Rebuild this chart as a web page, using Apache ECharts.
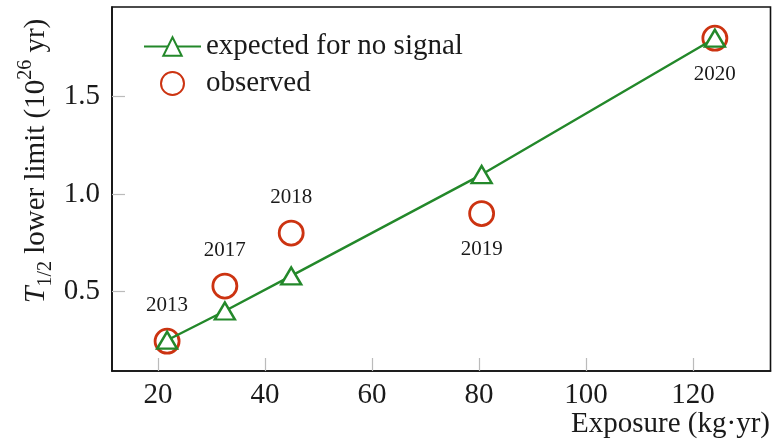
<!DOCTYPE html>
<html>
<head>
<meta charset="utf-8">
<script src="https://cdn.jsdelivr.net/npm/echarts@6/dist/echarts.min.js"></script>
<style>html,body{margin:0;padding:0;background:#fff;}#c{width:774px;height:448px;}</style>
</head>
<body>
<div id="c"></div>
<script>
const exposure = [21.7, 32.5, 44.9, 80.5, 124.1];
const expected = [0.25, 0.40, 0.58, 1.10, 1.80];
const observed = [0.245, 0.528, 0.80, 0.90, 1.80];
const years = ['2013', '2017', '2018', '2019', '2020'];
const xTicks = [20, 40, 60, 80, 100, 120];
const yTicks = [0.5, 1.0, 1.5];
const labelsBelow = ['2019', '2020'];
const xTitle = 'Exposure (kg·yr)';

const FONT = 'Liberation Serif';
const GREEN = '#23882a';
const RED = '#cc3311';
const TXT = '#1a1a1a';

const chart = echarts.init(document.getElementById('c'), null, {renderer: 'canvas'});
chart.setOption({
  animation: false,
  backgroundColor: '#fff',
  grid: {left: 112, top: 7, right: 3.5, bottom: 77, show: true, borderColor: '#111', borderWidth: 1.6,
         containLabel: false, outerBoundsMode: 'none'},
  legend: {
    orient: 'vertical', left: 143, top: 32, padding: 0,
    itemWidth: 57, itemHeight: 23, itemGap: 8,
    textStyle: {fontFamily: FONT, fontSize: 29, color: TXT, lineHeight: 24},
    data: ['expected for no signal', 'observed']
  },
  xAxis: {
    type: 'value', min: 11.4, max: 134.5,
    axisLine: {show: true, lineStyle: {color: '#111', width: 1.6}},
    axisTick: {show: true, inside: true, length: 13, customValues: xTicks, lineStyle: {color: '#bbb', width: 1.2}},
    axisLabel: {customValues: xTicks, fontFamily: FONT, fontSize: 29, color: TXT, margin: 10},
    splitLine: {show: false}
  },
  yAxis: {
    type: 'value', min: 0.092, max: 1.96,
    axisLine: {show: true, lineStyle: {color: '#111', width: 1.6}},
    axisTick: {show: true, inside: true, length: 13, customValues: yTicks, lineStyle: {color: '#bbb', width: 1.2}},
    axisLabel: {customValues: yTicks, formatter: v => v.toFixed(1), fontFamily: FONT, fontSize: 29, color: TXT, margin: 12},
    splitLine: {show: false}
  },
  graphic: [{
    type: 'text', x: 36, y: 161, rotation: Math.PI / 2,
    style: {
      text: '{it|T}{sub|1/2}{n| lower limit (10}{sup|26}{n| yr)}',
      align: 'center', verticalAlign: 'middle', fill: TXT,
      font: '29px "Liberation Serif"',
      rich: {
        it: {fontFamily: FONT, fontSize: 30, fontStyle: 'italic', fill: TXT, lineHeight: 40, verticalAlign: 'middle'},
        n: {fontFamily: FONT, fontSize: 29, fill: TXT, lineHeight: 40, verticalAlign: 'middle'},
        sub: {fontFamily: FONT, fontSize: 20, fill: TXT, lineHeight: 40, verticalAlign: 'bottom'},
        sup: {fontFamily: FONT, fontSize: 20, fill: TXT, lineHeight: 40, verticalAlign: 'top'}
      }
    }
  }, {
    type: 'text', x: 770, y: 424,
    style: {text: xTitle, align: 'right', verticalAlign: 'middle', fill: TXT, font: '29px "Liberation Serif"'}
  }],
  series: [
    {
      name: 'observed', type: 'scatter',
      symbol: 'circle', symbolSize: 24, symbolKeepAspect: true,
      itemStyle: {color: 'rgba(255,255,255,0)', borderColor: RED, borderWidth: 2.8, opacity: 1},
      data: exposure.map((x, i) => ({
        value: [x, observed[i]],
        label: {position: labelsBelow.includes(years[i]) ? 'bottom' : 'top'}
      })),
      label: {
        show: true, distance: 12, opacity: 1,
        formatter: p => years[p.dataIndex],
        fontFamily: FONT, fontSize: 21, color: TXT
      },
      z: 2
    },
    {
      name: 'expected for no signal', type: 'line',
      symbol: 'triangle', symbolSize: [20, 17],
      showSymbol: true,
      lineStyle: {color: GREEN, width: 2.4},
      itemStyle: {color: '#fff', borderColor: GREEN, borderWidth: 2.4},
      data: exposure.map((x, i) => [x, expected[i]]),
      z: 3
    }
  ]
});
</script>
</body>
</html>
